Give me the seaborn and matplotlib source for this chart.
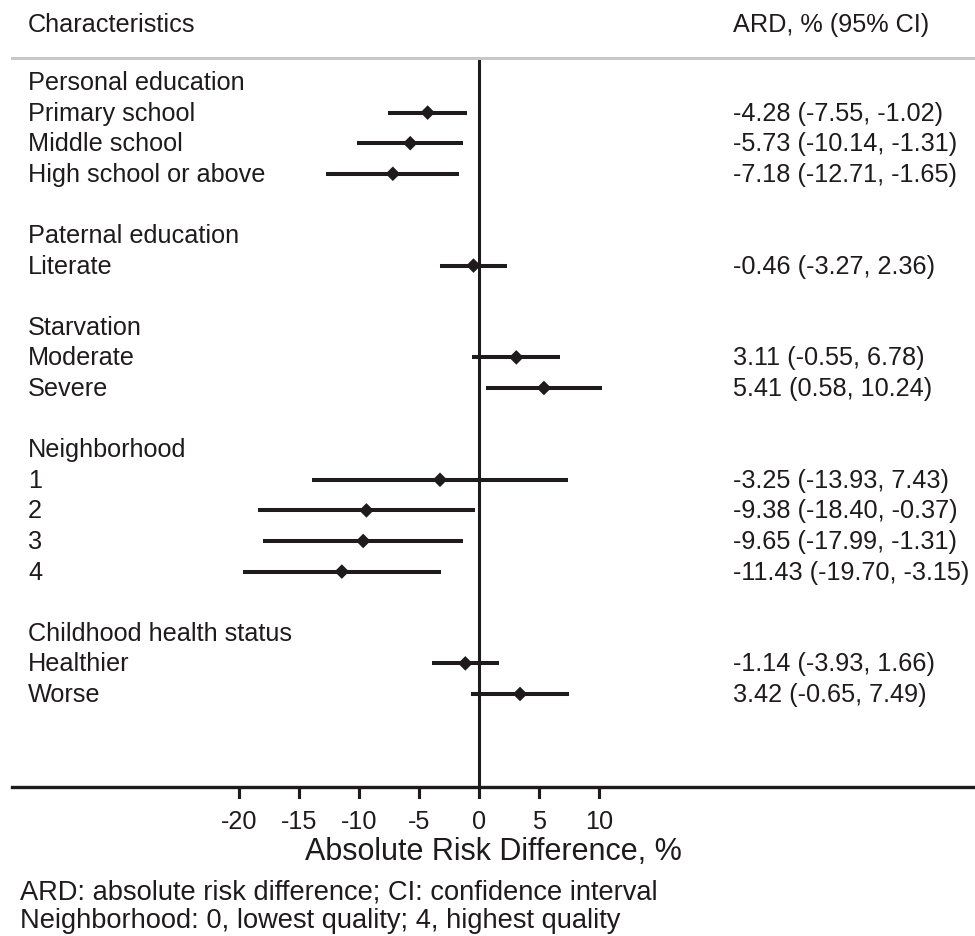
import matplotlib
matplotlib.use("Agg")
import matplotlib.pyplot as plt
import seaborn as sns
import pandas as pd

# dados do gráfico
grupos = ["Personal education", "Paternal education", "Starvation",
          "Neighborhood", "Childhood health status"]
itens = [["Primary school", "Middle school", "High school or above"],
         ["Literate"],
         ["Moderate", "Severe"],
         ["1", "2", "3", "4"],
         ["Healthier", "Worse"]]
ard = [-4.28, -5.73, -7.18, -0.46, 3.11, 5.41,
       -3.25, -9.38, -9.65, -11.43, -1.14, 3.42]
ic_inf = [-7.55, -10.14, -12.71, -3.27, -0.55, 0.58,
          -13.93, -18.40, -17.99, -19.70, -3.93, -0.65]
ic_sup = [-1.02, -1.31, -1.65, 2.36, 6.78, 10.24,
          7.43, -0.37, -1.31, -3.15, 1.66, 7.49]
ticks_x = [-20, -15, -10, -5, 0, 5, 10]

# monta as linhas da tabela: cabeçalho do grupo, itens, linha em branco
linhas = []
k = 0
pos = 0
for g, lista in zip(grupos, itens):
    linhas.append({"rotulo": g, "y": pos, "item": False})
    pos += 1
    for nome in lista:
        linhas.append({"rotulo": nome, "y": pos, "item": True,
                       "ard": ard[k], "lo": ic_inf[k], "hi": ic_sup[k]})
        k += 1
        pos += 1
    pos += 1
df = pd.DataFrame(linhas)
df_itens = df[df["item"]].copy()
df_itens["texto"] = [f"{a:.2f} ({l:.2f}, {h:.2f})"
                     for a, l, h in zip(df_itens["ard"], df_itens["lo"], df_itens["hi"])]

sns.set_style("white")
cor = "#1f1a1c"
fs = 18.2
plt.rcParams["font.family"] = ["Liberation Sans", "DejaVu Sans"]

fig = plt.figure(figsize=(9.75, 9.37), dpi=100)
ax = fig.add_axes([12 / 975, 1 - 788 / 937, 963 / 975, 729 / 937])
xlim = ((12 - 479) / 12, (975 - 479) / 12)

ax.hlines(df_itens["y"], df_itens["lo"], df_itens["hi"], color=cor, lw=2.9, zorder=2)
sns.scatterplot(data=df_itens, x="ard", y="y", marker="D", s=55, color=cor,
                edgecolor="none", ax=ax, zorder=3)
ax.axvline(0, color=cor, lw=2.2, zorder=1)

ax.set_xlim(xlim)
ax.set_ylim(23.04, -0.784)
ax.set_xticks(ticks_x)
ax.set_xticklabels([str(t) for t in ticks_x])
ax.set_yticks([])
ax.set_ylabel("")
ax.tick_params(axis="x", bottom=True, length=8, width=2.2, color=cor,
               labelsize=fs, pad=8, labelcolor=cor)
ax.set_xlabel("Absolute Risk Difference, %", fontsize=22, color=cor, labelpad=2)

for lado in ["left", "right"]:
    ax.spines[lado].set_visible(False)
ax.spines["top"].set_color("#c8c8c8")
ax.spines["top"].set_linewidth(2.2)
ax.spines["bottom"].set_color(cor)
ax.spines["bottom"].set_linewidth(2.4)

# faixa estreita sob o eixo só para as marcas dos ticks
ax_t = fig.add_axes([12 / 975, 1 - 800 / 937, 963 / 975, 12 / 937])
ax_t.set_xlim(xlim)
ax_t.set_ylim(0, 1)
ax_t.vlines(ticks_x, 0, 1, color=cor, lw=2.2)
ax_t.axis("off")

trans = ax.get_yaxis_transform()
for _, r in df.iterrows():
    ax.text(16 / 963, r["y"], r["rotulo"], transform=trans, ha="left",
            va="center", fontsize=fs, color=cor)
for _, r in df_itens.iterrows():
    ax.text(721 / 963, r["y"], r["texto"], transform=trans, ha="left",
            va="center", fontsize=fs, color=cor)

fig.text(28 / 975, 1 - 25 / 937, "Characteristics", ha="left", va="center",
         fontsize=fs, color=cor)
fig.text(733 / 975, 1 - 25 / 937, "ARD, % (95% CI)", ha="left", va="center",
         fontsize=fs, color=cor)
fig.text(20 / 975, 1 - 893 / 937, "ARD: absolute risk difference; CI: confidence interval",
         ha="left", va="center", fontsize=19.6, color=cor)
fig.text(20 / 975, 1 - 921 / 937, "Neighborhood: 0, lowest quality; 4, highest quality",
         ha="left", va="center", fontsize=19.6, color=cor)

fig.savefig("out.png", dpi=100)
